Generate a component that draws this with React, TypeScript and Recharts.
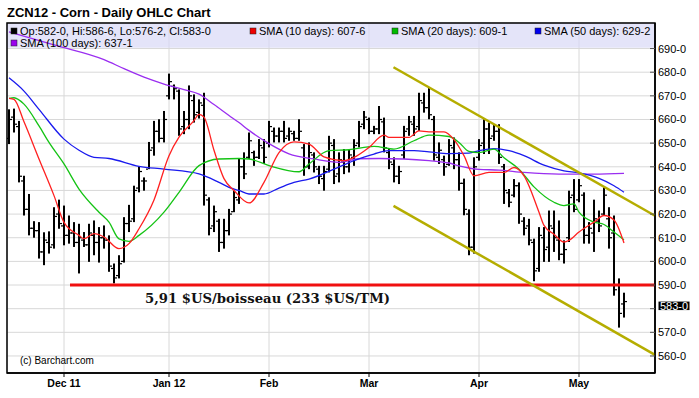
import React from "react";
import {
  ComposedChart, Bar, Line, XAxis, YAxis, CartesianGrid,
  ReferenceArea, ReferenceLine, ReferenceDot,
} from "recharts";

// ---- OHLC values (one per trading day, Nov 15 2011 .. May 14 2012) ----
const highs = [
  664.3, 664.6, 659.4, 636.2, 628.5, 617, 616.6, 612.3, 612.7, 622.9,
  626.1, 623.6, 619.4, 616.6, 615.9, 612.4, 615.9, 617.3, 614.5, 615.2,
  611, 599.1, 602.6, 618.7, 623.9, 632, 640.2, 635.5, 650.5, 659.4,
  660.1, 663.6, 679.4, 674.8, 672.7, 663.6, 674.4, 670.6, 668.5, 671.3,
  627.1, 623.6, 618, 618, 622.2, 629.9, 643.3, 646.1, 654.5, 646.8,
  651.7, 651.7, 659.4, 656.6, 656.6, 659.4, 656.6, 655.2, 660.1, 649.6,
  650.3, 646.1, 640.4, 640.4, 653.1, 651.7, 646.1, 647.5, 647.5, 651.7,
  659.4, 663.6, 660.8, 657.3, 665.7, 660.8, 647.5, 644, 640.4, 657.3,
  661.5, 661.5, 671.3, 671.3, 673.4, 661.5, 650.3, 644.7, 651.7, 652.4,
  646.1, 635, 622, 644, 651.7, 660.1, 658.7, 658, 658, 641.2,
  630.6, 634.8, 633.4, 618.7, 618, 609.6, 614.5, 614.5, 621.5, 621.5,
  617.3, 608.9, 629.9, 634.8, 634.8, 629.2, 616.6, 626.1, 621.5, 631.3,
  622.9, 619.4, 592.8, 586.75,
];
const lows = [
  649.6, 654.5, 633.4, 619.4, 611, 610, 601.2, 598.4, 603.3, 605.4,
  613.8, 606.8, 607.5, 606.1, 594.9, 606.1, 599.8, 602.6, 599.5, 605.4,
  595.6, 590.7, 592.8, 599.5, 612.4, 616.6, 629.2, 629.9, 639, 644.7,
  650.3, 650.3, 668.5, 668.5, 653.1, 653.8, 655.9, 658.7, 660.4, 623.6,
  611, 612.4, 604, 605.4, 611, 620.8, 624.3, 634.8, 643.3, 640.4,
  643.3, 641.2, 648.2, 650.3, 650.3, 650.3, 651, 651, 651, 636.2,
  639, 637.6, 632.7, 629.9, 637.6, 632.7, 633.4, 636.9, 637.6, 640.4,
  648.2, 655.9, 653.8, 653.8, 653.8, 646.1, 639, 633.4, 632.7, 643.3,
  653.1, 653.1, 655.2, 662.9, 660.1, 642.6, 641.2, 636.2, 640.4, 639,
  629.9, 619.5, 602.6, 603.3, 642.6, 645.4, 645.4, 651, 641.2, 624.3,
  622.9, 627.1, 615.9, 611, 606.8, 591.6, 595.6, 599.8, 599.8, 604,
  600.5, 599.1, 608.2, 620.8, 625, 607.5, 607.5, 604, 612.4, 619.4,
  605.4, 585.5, 572, 576.25,
];
const opens = [
  652, 661, 657, 634, 622, 614, 613, 604, 608, 607,
  620, 615, 611, 612, 608, 609, 607, 611, 608, 610,
  609, 597, 594, 600, 616, 618, 631, 634, 639, 648,
  655, 652, 670, 674, 672, 657, 660, 668, 663, 666,
  626, 615, 617, 608, 613, 621, 626, 640, 644, 646,
  644, 648, 650, 655, 653, 655, 653, 654, 652, 648,
  640, 645, 639, 635, 639, 649, 637, 642, 640, 644,
  650, 658, 660, 655, 656, 659, 646, 641, 636, 645,
  656, 658, 657, 667, 665, 660, 644, 643, 641, 648,
  643, 633, 620, 606, 644, 650, 656, 653, 655, 640,
  629, 628, 632, 617, 615, 608, 597, 610, 606, 614,
  609, 603, 610, 628, 626, 628, 611, 612, 617, 620,
  618, 612, 590, 582,
];
const closes = [
  660, 658, 636, 622, 614, 613, 604, 609, 606, 619,
  616, 611, 612, 608, 610, 607, 612, 608, 610, 609,
  598, 593, 599, 616, 617, 630, 638, 634, 647, 655,
  652, 660, 676, 673, 656, 660, 670, 662, 667, 628,
  614, 621, 608, 613, 620, 627, 640, 637, 651, 644,
  649, 644, 657, 653, 655, 652, 655, 652, 655, 640,
  646, 640, 636, 638, 650, 636, 643, 640, 645, 649,
  657, 661, 655, 656, 660, 648, 642, 636, 638, 655,
  659, 656, 668, 665, 662, 645, 647, 640, 649, 643,
  633, 622, 606, 640, 649, 656, 652, 655, 644, 630,
  625, 632, 620, 614, 609, 596, 611, 605, 615, 610,
  603, 605, 627, 622, 632, 611, 614, 618, 615, 628,
  610, 588, 578, 583,
];

// ---- moving averages: [day index, value] ----
const sma10 = [
  [0, 668.9], [1, 668.5], [3, 659], [6, 643.3], [9, 627.8], [11, 616.5], [14, 611],
  [15, 609.6], [17, 611.7], [19, 610.3], [22, 605.4], [24, 607.5], [26, 613.8],
  [29, 626], [32, 644.7], [34, 652.5], [37, 659.5], [38, 662.2], [39, 661],
  [41, 647], [43, 635], [45, 630], [48, 624.7], [51, 633.4], [54, 646], [57, 650.5],
  [60, 649.6], [63, 644.2], [67, 642.6], [69, 644], [72, 648.2], [75, 653.4],
  [76, 652.4], [80, 652.4], [82, 655.2], [84, 654.8], [87, 654.8], [89, 651.5],
  [91, 644.7], [93, 636.2], [96, 637.6], [99, 637.6], [101, 639.7], [103, 636.2],
  [106, 620.8], [107, 615.2], [109, 611.5], [111, 608.2], [112, 608.9], [114, 612.4],
  [117, 616.6], [119, 619.4], [121, 617.5], [123, 607.75],
];
const sma20 = [
  [0, 668.9], [1, 669.2], [3, 666.5], [6, 657.3], [8, 650.3], [11, 641.2], [14, 630.6],
  [18, 620.8], [20, 616.6], [22, 609.5], [24, 608.5], [26, 611], [31, 620.8],
  [34, 629.2], [38, 640.5], [42, 643.3], [46, 643.5], [48, 643.3], [52, 640.5],
  [58, 637.9], [60, 641.2], [64, 646.8], [68, 647.2], [73, 648.6], [77, 647.5],
  [81, 651], [84, 653.4], [88, 652.8], [90, 650.3], [92, 646.5], [94, 646],
  [97, 647.5], [99, 643.8], [102, 639], [105, 631.5], [109, 625], [111, 623.6],
  [113, 624.3], [114, 620.8], [117, 616.6], [119, 615.6], [121, 612.4], [123, 609.125],
];
const sma50 = [
  [0, 677.6], [3, 672], [6, 664.3], [11, 651.7], [14, 647], [17, 644], [20, 643.5],
  [26, 640.2], [31, 639], [38, 637], [42, 633.4], [44, 631.3], [46, 630], [48, 628.5],
  [51, 628.5], [54, 631], [57, 633.4], [60, 634.8], [65, 639], [69, 642.6], [73, 645.4],
  [76, 646.8], [81, 646.8], [84, 646.3], [88, 645.6], [92, 645.8], [94, 646.8],
  [97, 647.7], [100, 646.8], [103, 644.7], [107, 640.7], [111, 638.3], [114, 637.4],
  [118, 635.1], [121, 632], [123, 629.25],
];
const sma100 = [
  [0, 697], [9, 691.5], [19, 685.3], [23, 681.5], [27, 677.9], [31, 675], [35, 672.6],
  [38, 670.7], [41, 666.3], [44, 661.7], [46, 658.7], [48, 655.4], [52, 649.8],
  [56, 645.5], [61, 643.3], [66, 641.9], [70, 643.4], [74, 643.5], [79, 643.3],
  [84, 642.6], [88, 641.6], [90, 640.4], [94, 638.9], [98, 638.6], [103, 637.6],
  [110, 636.9], [117, 636.9], [123, 637.2],
];

// ---- axis ticks ----
const monthTicks = [11, 32, 52, 72, 94, 114];
const monthLabels = ["Dec 11", "Jan 12", "Feb", "Mar", "Apr", "May"];
const priceTicks = [560, 570, 580, 590, 600, 610, 620, 630, 640, 650, 660, 670, 680, 690];
const hiddenPriceLabels = [580];

// ---- annotations ----
const supportLevel = 590;
const supportStart = 12.2;
const upperTrend = [[76.9, 682.1], [129.2, 619.3]];
const lowerTrend = [[76.9, 623.5], [129.2, 560.5]];

const X_MIN = -0.4;
const X_MAX = 129.2;
const Y_MIN = 552.8;
const Y_MAX = 700.8;

const ohlcData = highs.map((h, i) => ({
  i, high: h, low: lows[i], open: opens[i], close: closes[i], range: [lows[i], h],
}));
const toPts = (arr) => arr.map(([i, v]) => ({ i, v }));

const FONT = "'Liberation Sans', Arial, sans-serif";

const OhlcShape = (props) => {
  const { x, y, width, height, payload } = props;
  if (x == null || y == null || height == null) return null;
  const top = Math.min(y, y + height);
  const h = Math.abs(height);
  const cx = Math.round(x + width / 2);
  const span = payload.high - payload.low || 1;
  const yo = top + ((payload.high - payload.open) / span) * h;
  const yc = top + ((payload.high - payload.close) / span) * h;
  return (
    <g>
      <rect x={cx - 1} y={top} width={2} height={Math.max(h, 1)} fill="#000" />
      <rect x={cx - 3} y={yo - 0.6} width={2} height={1.2} fill="#000" />
      <rect x={cx + 1} y={yc - 0.6} width={2} height={1.2} fill="#000" />
    </g>
  );
};

const XTick = (props) => {
  const { x, y, payload } = props;
  const idx = monthTicks.indexOf(payload.value);
  return (
    <g>
      <line x1={x} x2={x} y1={y} y2={y + 4} stroke="#000" />
      <text x={x} y={y + 14} textAnchor="middle" fontFamily={FONT} fontWeight="bold" fontSize={10.5} fill="#000">
        {idx >= 0 ? monthLabels[idx] : ""}
      </text>
    </g>
  );
};

const YTick = (props) => {
  const { x, y, payload } = props;
  const show = !hiddenPriceLabels.includes(payload.value);
  return (
    <g>
      <line x1={x - 5} x2={x} y1={y} y2={y} stroke="#555" />
      {show && (
        <text x={x + 3} y={y + 4} fontFamily={FONT} fontSize={11} fill="#000">
          {`${payload.value}-0`}
        </text>
      )}
    </g>
  );
};

const LastPrice = (p) => {
  const { cx, cy } = p;
  if (cx == null) return null;
  return (
    <g>
      <rect x={cx + 3.5} y={cy} width={31} height={8.5} fill="#000" />
      <text x={cx + 5} y={cy + 8} fontFamily={FONT} fontSize={11} fill="#fff">
        {`${closes[closes.length - 1]}-0`}
      </text>
    </g>
  );
};

const legendRow1 = [
  { x: 11, color: "#000", text: "Op:582-0, Hi:586-6, Lo:576-2, Cl:583-0" },
  { x: 250, color: "#ee0000", text: "SMA (10 days): 607-6" },
  { x: 392, color: "#00bb00", text: "SMA (20 days): 609-1" },
  { x: 535, color: "#0000ee", text: "SMA (50 days): 629-2" },
];
const legendRow2 = [{ x: 11, color: "#9a00ee", text: "SMA (100 days): 637-1" }];

export default function App() {
  return (
    <div style={{ position: "absolute", left: 0, top: 0, width: 699, height: 398, background: "#fff" }}>
      <ComposedChart
        width={699}
        height={398}
        data={ohlcData}
        margin={{ top: 23, right: 0, bottom: 0, left: 7 }}
      >
        <CartesianGrid stroke="#d8d8d8" strokeWidth={1} />
        <XAxis
          type="number"
          dataKey="i"
          domain={[X_MIN, X_MAX]}
          allowDataOverflow
          ticks={monthTicks}
          interval={0}
          height={25}
          tickSize={0}
          tickMargin={0}
          tickLine={false}
          axisLine={{ stroke: "#000", strokeWidth: 1.5 }}
          tick={<XTick />}
        />
        <YAxis
          orientation="right"
          type="number"
          domain={[Y_MIN, Y_MAX]}
          allowDataOverflow
          ticks={priceTicks}
          interval={0}
          width={44}
          tickSize={0}
          tickMargin={0}
          tickLine={false}
          axisLine={{ stroke: "#000", strokeWidth: 1.5 }}
          tick={<YTick />}
        />
        <ReferenceArea
          x1={X_MIN} x2={X_MAX} y1={690.3} y2={Y_MAX}
          fill="#d9d9f7" fillOpacity={0.7} stroke="none" ifOverflow="visible"
        />
        <ReferenceLine
          segment={[{ x: supportStart, y: supportLevel }, { x: X_MAX, y: supportLevel }]}
          stroke="#f01010" strokeWidth={3} ifOverflow="visible"
        />
        <Line data={toPts(sma100)} dataKey="v" type="monotone" stroke="#9a2ef0" strokeWidth={1.3} dot={false} isAnimationActive={false} />
        <Line data={toPts(sma50)} dataKey="v" type="monotone" stroke="#1a1aee" strokeWidth={1.3} dot={false} isAnimationActive={false} />
        <Line data={toPts(sma20)} dataKey="v" type="monotone" stroke="#14c314" strokeWidth={1.3} dot={false} isAnimationActive={false} />
        <Line data={toPts(sma10)} dataKey="v" type="monotone" stroke="#ff2020" strokeWidth={1.3} dot={false} isAnimationActive={false} />
        <Bar dataKey="range" barSize={4} shape={<OhlcShape />} isAnimationActive={false} />
        <ReferenceLine
          segment={upperTrend.map(([x, y]) => ({ x, y }))}
          stroke="#b5ad00" strokeWidth={2.5} ifOverflow="visible"
        />
        <ReferenceLine
          segment={lowerTrend.map(([x, y]) => ({ x, y }))}
          stroke="#b5ad00" strokeWidth={2.5} ifOverflow="visible"
        />
        <ReferenceArea
          x1={X_MIN} x2={X_MAX} y1={Y_MIN} y2={Y_MAX}
          fill="none" stroke="#000" strokeWidth={1.5} ifOverflow="visible"
        />
        <ReferenceDot x={X_MAX} y={closes[closes.length - 1]} ifOverflow="visible" shape={<LastPrice />} />
      </ComposedChart>
      <svg width={699} height={398} style={{ position: "absolute", left: 0, top: 0, pointerEvents: "none" }}>
        <text x={7} y={17} fontFamily={FONT} fontWeight="bold" fontSize={13} fill="#000">
          ZCN12 - Corn - Daily OHLC Chart
        </text>
        {legendRow1.map((l) => (
          <g key={l.text}>
            <rect x={l.x} y={28} width={6} height={6} fill={l.color} stroke="#222" strokeWidth={0.5} />
            <text x={l.x + 9} y={35} fontFamily={FONT} fontSize={11} fill="#000">{l.text}</text>
          </g>
        ))}
        {legendRow2.map((l) => (
          <g key={l.text}>
            <rect x={l.x} y={40} width={6} height={6} fill={l.color} stroke="#222" strokeWidth={0.5} />
            <text x={l.x + 9} y={47} fontFamily={FONT} fontSize={11} fill="#000">{l.text}</text>
          </g>
        ))}
        <text x={145} y={303} fontFamily="'DejaVu Serif', serif" fontWeight="bold" fontSize={13.5}
          textLength={245} lengthAdjust="spacingAndGlyphs" fill="#111">
          5,91 $US/boisseau (233 $US/TM)
        </text>
        <text x={20} y={364} fontFamily={FONT} fontSize={10} fill="#000">(c) Barchart.com</text>
      </svg>
    </div>
  );
}
